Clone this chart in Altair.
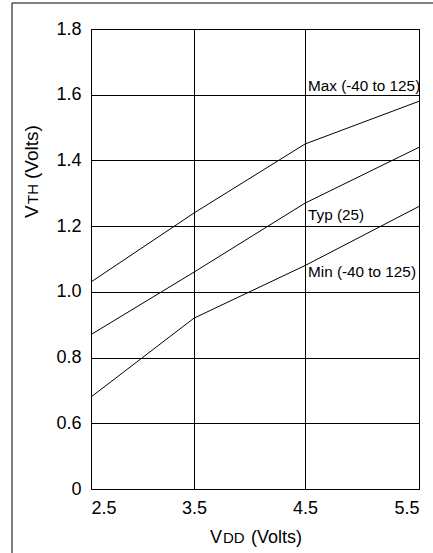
import altair as alt
import pandas as pd

# Supply voltage (V) and threshold voltage curves (V)
vdd = [2.5, 3.5, 4.5, 5.5]
vth_max = [1.03, 1.24, 1.45, 1.58]
vth_typ = [0.87, 1.06, 1.27, 1.44]
vth_min = [0.68, 0.92, 1.08, 1.26]

series_names = ["Max (-40 to 125)", "Typ (25)", "Min (-40 to 125)"]
label_vdd = [4.5, 4.5, 4.5]
label_vth = [1.61, 1.22, 1.045]

y_ticks = [0.4, 0.6, 0.8, 1.0, 1.2, 1.4, 1.6, 1.8]
x_ticks = [2.5, 3.5, 4.5, 5.5]

FONT = "Liberation Sans"

rows = []
for name, vals in zip(series_names, [vth_max, vth_typ, vth_min]):
    for v, t in zip(vdd, vals):
        rows.append({"series": name, "vdd": v, "vth": t})
curves = pd.DataFrame(rows)
labels = pd.DataFrame({"series": series_names, "vdd": label_vdd, "vth": label_vth})

x_scale = alt.Scale(domain=x_ticks, range=[0, 103, 214, 328])
y_scale = alt.Scale(domain=[0.4, 1.8], nice=False, zero=False)

x_axis = alt.Axis(
    values=x_ticks, format=".1f", title=None, grid=True, gridColor="black",
    gridWidth=1, gridOpacity=1, ticks=False, domain=False,
    labelFont=FONT, labelFontSize=18, labelColor="black", labelPadding=10,
)
y_axis = alt.Axis(
    values=y_ticks, title=None, grid=True, gridColor="black", gridWidth=1,
    gridOpacity=1, ticks=False, domain=False,
    labelExpr="datum.value < 0.5 ? '0' : format(datum.value, '.1f')",
    labelFont=FONT, labelFontSize=18, labelColor="black", labelPadding=10,
)

lines = alt.Chart(curves).mark_line(color="black", strokeWidth=1).encode(
    x=alt.X("vdd:Q", scale=x_scale, axis=x_axis),
    y=alt.Y("vth:Q", scale=y_scale, axis=y_axis),
    detail="series:N",
)

curve_labels = alt.Chart(labels).mark_text(
    align="left", baseline="alphabetic", dx=3, font=FONT, fontSize=15.3, color="black"
).encode(
    x=alt.X("vdd:Q", scale=x_scale),
    y=alt.Y("vth:Q", scale=y_scale),
    text="series:N",
)

# Axis titles with small-caps style subscripts
def title_piece(text, x, y, size, angle=0):
    return alt.Chart(pd.DataFrame({"t": [text]})).mark_text(
        align="left", baseline="alphabetic", font=FONT, fontSize=size,
        color="black", angle=angle,
    ).encode(x=alt.value(x), y=alt.value(y), text="t:N")

x_title = [
    title_piece("V", 119, 514, 18),
    title_piece("DD", 132, 514, 15),
    title_piece("(Volts)", 160, 514, 18),
]
y_title = [
    title_piece("V", -53, 189, 19, 270),
    title_piece("TH", -53, 175, 15, 270),
    title_piece("(Volts)", -53, 150, 19, 270),
]

# Outer frame (top and left edges)
frame_top = alt.Chart(pd.DataFrame({"k": [0]})).mark_rule(color="black", strokeWidth=1).encode(
    x=alt.value(-79), x2=alt.value(342), y=alt.value(-26)
)
frame_left = alt.Chart(pd.DataFrame({"k": [0]})).mark_rule(color="black", strokeWidth=1).encode(
    x=alt.value(-79), y=alt.value(-26), y2=alt.value(524)
)

chart = alt.layer(
    lines, curve_labels, *x_title, *y_title, frame_top, frame_left
).properties(
    width=328,
    height=460,
    autosize=alt.AutoSizeParams(type="none"),
    padding={"left": 91, "top": 29, "right": 14, "bottom": 64},
    background="white",
).configure_view(
    stroke="black", strokeWidth=1
)

chart.save("out.html", embed_options={"renderer": "svg", "actions": False})
